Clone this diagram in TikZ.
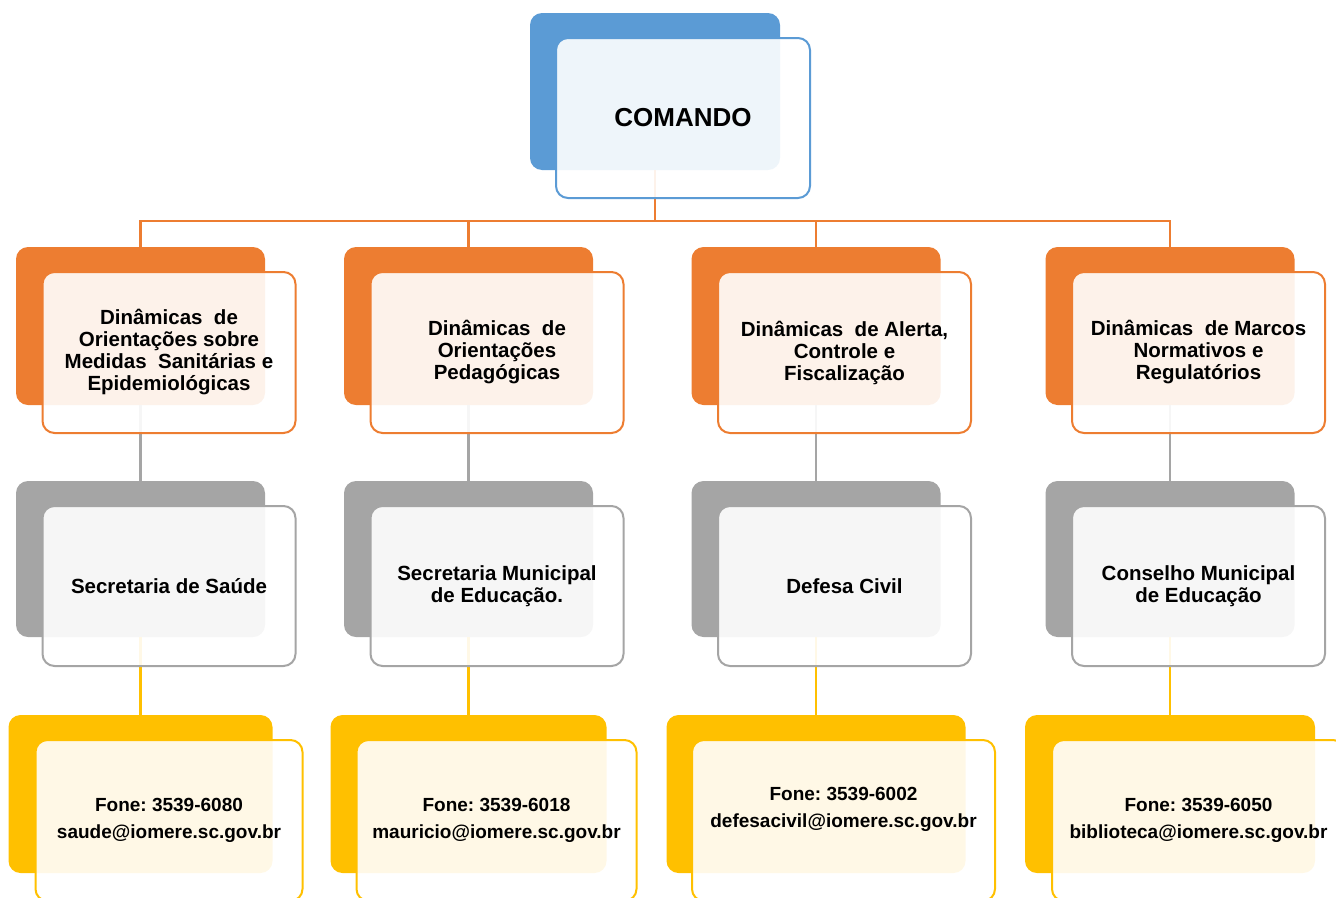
\documentclass[tikz,border=0pt]{standalone}
\usepackage{fontspec}
\setmainfont{Liberation Sans}
\frenchspacing

\definecolor{cmdblue}{HTML}{5B9BD5}
\definecolor{dynorange}{HTML}{ED7D31}
\definecolor{secgray}{HTML}{A5A5A5}
\definecolor{contyellow}{HTML}{FFC000}

\begin{document}
\begin{tikzpicture}[
    x=1pt, y=-1pt,
    backbox/.style={rectangle, rounded corners=12pt, fill=#1, minimum width=249pt, minimum height=158pt, inner sep=0pt},
    frontbox/.style={rectangle, rounded corners=12pt, draw=#1, line width=2pt, fill=white, fill opacity=0.9, text opacity=1, align=center, minimum width=253pt, minimum height=161pt, inner sep=2pt},
    dyntext/.style={font=\bfseries\fontsize{20.5}{22}\selectfont},
    sectext/.style={font=\bfseries\fontsize{20.5}{22}\selectfont},
    conttext/.style={font=\bfseries\fontsize{19}{27}\selectfont},
    link/.style={draw=#1, line width=2.6pt}
  ]
    \useasboundingbox (0,0) rectangle (1336,897);
    \clip (0,0) rectangle (1336,897);

    % back boxes
    \node[backbox=cmdblue, minimum width=250pt, minimum height=157pt] (cmd) at (655,91.5) {};

    \node[backbox=dynorange] (dyn1) at (140.5,326) {};
    \node[backbox=dynorange] (dyn2) at (468.5,326) {};
    \node[backbox=dynorange] (dyn3) at (816,326) {};
    \node[backbox=dynorange] (dyn4) at (1170,326) {};

    \node[backbox=secgray, minimum height=156pt] (sec1) at (140.5,559) {};
    \node[backbox=secgray, minimum height=156pt] (sec2) at (468.5,559) {};
    \node[backbox=secgray, minimum height=156pt] (sec3) at (816,559) {};
    \node[backbox=secgray, minimum height=156pt] (sec4) at (1170,559) {};

    \node[backbox=contyellow, minimum width=264pt] (cont1) at (140.5,794) {};
    \node[backbox=contyellow, minimum width=276pt] (cont2) at (468.5,794) {};
    \node[backbox=contyellow, minimum width=299pt] (cont3) at (816,794) {};
    \node[backbox=contyellow, minimum width=290pt] (cont4) at (1170,794) {};

    % connectors
    \coordinate (bus) at (655,221);
    \draw[link=dynorange] (cmd.south) -- (bus);
    \draw[link=dynorange] (bus) -| (dyn1.north);
    \draw[link=dynorange] (bus) -| (dyn2.north);
    \draw[link=dynorange] (bus) -| (dyn3.north);
    \draw[link=dynorange] (bus) -| (dyn4.north);

    \draw[link=secgray] (dyn1.south) -- (sec1.north);
    \draw[link=secgray] (dyn2.south) -- (sec2.north);
    \draw[link=secgray] (dyn3.south) -- (sec3.north);
    \draw[link=secgray] (dyn4.south) -- (sec4.north);

    \draw[link=contyellow] (sec1.south) -- (cont1.north);
    \draw[link=contyellow] (sec2.south) -- (cont2.north);
    \draw[link=contyellow] (sec3.south) -- (cont3.north);
    \draw[link=contyellow] (sec4.south) -- (cont4.north);

    % front boxes
    \node[frontbox=cmdblue, minimum width=254pt, minimum height=160pt, font=\bfseries\fontsize{26}{30}\selectfont]
      (cmdf) at ([xshift=28pt,yshift=-26.5pt]cmd.center) {COMANDO};

    \node[frontbox=dynorange, dyntext] (dyn1f) at ([xshift=28.5pt,yshift=-26.5pt]dyn1.center)
      {Dinâmicas\ \ de\\Orientações sobre\\Medidas\ \ Sanitárias e\\Epidemiológicas};
    \node[frontbox=dynorange, dyntext] (dyn2f) at ([xshift=28.5pt,yshift=-26.5pt]dyn2.center)
      {Dinâmicas\ \ de\\Orientações\\Pedagógicas};
    \node[frontbox=dynorange, dyntext] (dyn3f) at ([xshift=28.5pt,yshift=-26.5pt]dyn3.center)
      {Dinâmicas\ \ de Alerta,\\Controle e\\Fiscalização};
    \node[frontbox=dynorange, dyntext] (dyn4f) at ([xshift=28.5pt,yshift=-26.5pt]dyn4.center)
      {Dinâmicas\ \ de Marcos\\Normativos e\\Regulatórios};

    \node[frontbox=secgray, sectext, minimum height=160pt] (sec1f) at ([xshift=28.5pt,yshift=-27pt]sec1.center)
      {Secretaria de Saúde};
    \node[frontbox=secgray, sectext, minimum height=160pt] (sec2f) at ([xshift=28.5pt,yshift=-27pt]sec2.center)
      {Secretaria Municipal\\de Educação.};
    \node[frontbox=secgray, sectext, minimum height=160pt] (sec3f) at ([xshift=28.5pt,yshift=-27pt]sec3.center)
      {Defesa Civil};
    \node[frontbox=secgray, sectext, minimum height=160pt] (sec4f) at ([xshift=28.5pt,yshift=-27pt]sec4.center)
      {Conselho Municipal\\de Educação};

    \node[frontbox=contyellow, conttext, minimum width=267pt] (cont1f) at ([xshift=28.5pt,yshift=-26.5pt]cont1.center)
      {Fone: 3539-6080\\saude@iomere.sc.gov.br};
    \node[frontbox=contyellow, conttext, minimum width=280pt] (cont2f) at ([xshift=28pt,yshift=-26.5pt]cont2.center)
      {Fone: 3539-6018\\mauricio@iomere.sc.gov.br};
    \node[frontbox=contyellow, conttext, minimum width=303pt] (cont3f) at ([xshift=27.5pt,yshift=-26.5pt]cont3.center)
      {Fone: 3539-6002\\defesacivil@iomere.sc.gov.br\\\mbox{}};
    \node[frontbox=contyellow, conttext, minimum width=293pt] (cont4f) at ([xshift=28.5pt,yshift=-26.5pt]cont4.center)
      {Fone: 3539-6050\\biblioteca@iomere.sc.gov.br};
  \end{tikzpicture}
\end{document}
